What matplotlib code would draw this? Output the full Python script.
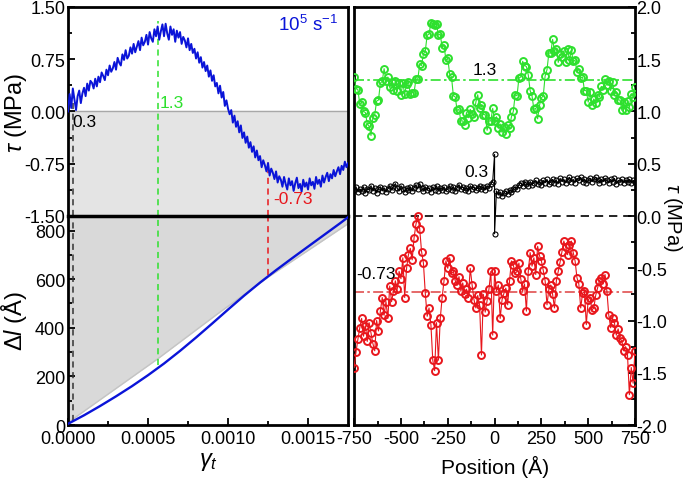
import numpy as np
import matplotlib
matplotlib.use("Agg")
import matplotlib.pyplot as plt

plt.rcParams["font.family"] = ["Liberation Sans", "DejaVu Sans"]
plt.rcParams["mathtext.fontset"] = "custom"
plt.rcParams["mathtext.rm"] = "Liberation Sans"
plt.rcParams["mathtext.it"] = "Liberation Sans:italic"
plt.rcParams["axes.unicode_minus"] = False

# shear stress vs strain (top left), noisy trace
tau_strain = [
    0.00, 0.25, 0.05, 0.33, 0.18, 0.02, 0.22, 0.30, 0.12, 0.26,
    0.34, 0.22, 0.40, 0.30, 0.44, 0.41, 0.33, 0.47, 0.36, 0.50,
    0.42, 0.56, 0.51, 0.45, 0.60, 0.52, 0.66, 0.57, 0.62, 0.71,
    0.60, 0.77, 0.70, 0.66, 0.82, 0.74, 0.88, 0.76, 0.80, 0.92,
    0.83, 0.97, 0.85, 0.93, 1.01, 0.88, 1.06, 0.95, 1.00, 1.10,
    0.96, 1.14, 1.05, 1.00, 1.18, 1.08, 1.22, 1.03, 1.15, 1.25,
    1.08, 1.26, 1.12, 1.03, 1.22, 1.10, 1.18, 1.00, 1.16, 1.06,
    1.14, 0.97, 1.07, 1.02, 0.92, 1.05, 0.88, 0.97, 0.84, 0.90,
    0.76, 0.85, 0.70, 0.78, 0.63, 0.71, 0.58, 0.66, 0.50, 0.59,
    0.44, 0.52, 0.36, 0.41, 0.26, 0.37, 0.20, 0.28, 0.08, 0.16,
    0.04, -0.04, 0.02, -0.16, -0.06, -0.22, -0.14, -0.30, -0.20, -0.38,
    -0.30, -0.45, -0.36, -0.52, -0.44, -0.58, -0.50, -0.66, -0.56, -0.70,
    -0.64, -0.80, -0.70, -0.77, -0.86, -0.74, -0.92, -0.82, -0.88, -0.97,
    -0.86, -1.02, -0.93, -0.98, -1.08, -0.94, -1.04, -1.12, -0.96, -1.06,
    -1.00, -1.14, -1.03, -0.95, -1.10, -1.04, -1.15, -0.98, -1.08, -1.02,
    -1.12, -0.96, -1.06, -1.01, -1.11, -0.94, -1.04, -0.98, -1.08, -0.92,
    -1.02, -0.94, -0.88, -1.00, -0.90, -0.96, -0.84, -0.93, -0.86, -0.80,
    -0.90, -0.78, -0.84, -0.72, -0.80, -0.74,
]
gamma = np.linspace(0, 0.00175, len(tau_strain))

# dislocation travel vs strain (bottom left)
gamma_dl = [0, 0.0001, 0.0002, 0.0003, 0.0004, 0.0005, 0.0006, 0.0007, 0.0008,
            0.0009, 0.0010, 0.0011, 0.0012, 0.0013, 0.0014, 0.0015, 0.0016,
            0.0017, 0.00175]
dl = [5, 40, 78, 118, 160, 205, 253, 305, 360, 417, 475, 532, 586, 637, 686,
      734, 782, 830, 855]
hull_gamma = [0, 0.00056, 0.00093, 0.00125, 0.00175]
hull_dl = [10, 272, 455, 608, 828]

# stress profiles along the dislocation line (right)
pos_g = np.arange(-750, 751, 10)
tau_green = [
    1.33, 1.22, 1.21, 1.07, 1.09, 1.00, 0.99, 0.88, 0.86, 0.77,
    0.94, 0.97, 1.10, 1.11, 1.27, 1.29, 1.41, 1.29, 1.33, 1.23,
    1.28, 1.21, 1.29, 1.20, 1.27, 1.16, 1.27, 1.17, 1.26, 1.28,
    1.17, 1.18, 1.18, 1.31, 1.31, 1.45, 1.44, 1.55, 1.58, 1.73,
    1.74, 1.85, 1.84, 1.83, 1.84, 1.73, 1.74, 1.61, 1.64, 1.49,
    1.51, 1.36, 1.33, 1.15, 1.14, 1.01, 1.02, 0.91, 0.91, 0.87,
    0.99, 0.94, 1.02, 0.98, 0.95, 1.09, 1.16, 1.03, 1.06, 0.97,
    0.97, 0.82, 0.91, 0.91, 1.03, 0.91, 0.95, 0.84, 0.88, 0.80,
    0.85, 0.78, 0.87, 0.84, 0.95, 1.00, 1.16, 1.15, 1.32, 1.33,
    1.48, 1.44, 1.43, 1.35, 1.20, 1.15, 1.02, 1.03, 0.93, 1.06,
    1.13, 1.15, 1.34, 1.40, 1.56, 1.56, 1.69, 1.58, 1.60, 1.47,
    1.55, 1.52, 1.58, 1.47, 1.60, 1.49, 1.59, 1.48, 1.49, 1.38,
    1.41, 1.32, 1.33, 1.20, 1.20, 1.09, 1.19, 1.06, 1.12, 1.08,
    1.16, 1.14, 1.24, 1.21, 1.31, 1.25, 1.29, 1.20, 1.28, 1.16,
    1.19, 1.11, 1.11, 1.01, 1.09, 1.01, 1.10, 1.04, 1.17, 1.14, 1.23,
]

pos_k = list(range(-750, 0, 10)) + [0, 0] + list(range(10, 751, 10))
tau_black = [
    0.25, 0.28, 0.23, 0.26, 0.24, 0.28, 0.22, 0.26, 0.25, 0.29,
    0.24, 0.27, 0.22, 0.26, 0.28, 0.24, 0.27, 0.23, 0.26, 0.29,
    0.25, 0.28, 0.31, 0.27, 0.24, 0.29, 0.26, 0.23, 0.27, 0.25,
    0.28, 0.24, 0.27, 0.30, 0.26, 0.31, 0.27, 0.24, 0.28, 0.25,
    0.27, 0.23, 0.28, 0.25, 0.29, 0.24, 0.27, 0.25, 0.28, 0.24,
    0.26, 0.29, 0.25, 0.28, 0.24, 0.27, 0.30, 0.26, 0.28, 0.25,
    0.27, 0.24, 0.29, 0.26, 0.28, 0.25, 0.27, 0.29, 0.26, 0.28,
    0.25, 0.29, 0.27, 0.31, 0.33,
    0.59, -0.17,
    0.24, 0.20, 0.23, 0.19, 0.22, 0.24, 0.21, 0.25, 0.23, 0.26,
    0.28, 0.26, 0.30, 0.32, 0.29, 0.33, 0.31, 0.29, 0.33, 0.30,
    0.32, 0.34, 0.31, 0.33, 0.30, 0.34, 0.32, 0.35, 0.31, 0.33,
    0.35, 0.32, 0.34, 0.31, 0.36, 0.33, 0.35, 0.32, 0.34, 0.37,
    0.33, 0.35, 0.32, 0.36, 0.34, 0.37, 0.33, 0.35, 0.32, 0.34,
    0.36, 0.33, 0.35, 0.37, 0.34, 0.32, 0.35, 0.33, 0.36, 0.34,
    0.32, 0.35, 0.33, 0.36, 0.31, 0.34, 0.33, 0.35, 0.32, 0.34,
    0.33, 0.35, 0.32, 0.34, 0.33,
]

pos_r = np.arange(-750, 751, 10)
tau_red = [
    -1.45, -1.30, -1.18, -1.07, -0.98, -1.15, -1.05, -1.20, -1.02, -1.12,
    -1.22, -1.29, -1.00, -1.10, -0.91, -0.78, -0.95, -0.82, -0.98, -0.67,
    -0.82, -0.72, -0.62, -0.70, -0.53, -0.60, -0.40, -0.78, -0.50, -0.37,
    -0.31, -0.42, -0.21, -0.08, 0.00, -0.12, -0.34, -0.45, -0.74, -0.96,
    -0.88, -1.04, -1.38, -1.48, -1.02, -1.38, -0.98, -0.78, -0.62, -0.43,
    -0.50, -0.40, -0.55, -0.53, -0.62, -0.66, -0.58, -0.72, -0.64, -0.75,
    -0.70, -0.78, -0.50, -0.66, -0.80, -0.88, -0.76, -0.85, -1.33, -0.75,
    -0.92, -0.81, -0.70, -0.53, -1.14, -0.53, -0.72, -0.66, -0.98, -0.80,
    -0.74, -0.69, -0.85, -0.62, -0.43, -0.47, -0.55, -0.53, -0.45, -0.60,
    -0.72, -0.65, -0.91, -0.53, -0.35, -0.48, -0.40, -0.56, -0.29, -0.38,
    -0.43, -0.52, -0.62, -0.85, -0.70, -0.66, -0.75, -0.88, -0.62, -0.53,
    -0.44, -0.34, -0.24, -0.30, -0.37, -0.28, -0.24, -0.35, -0.43, -0.59,
    -0.65, -0.88, -0.74, -0.72, -1.04, -0.80, -0.78, -0.90, -0.88, -0.76,
    -0.69, -0.62, -0.59, -0.65, -0.56, -0.72, -0.95, -1.07, -0.98, -1.02,
    -1.14, -1.08, -1.17, -1.20, -1.29, -1.25, -1.33, -1.71, -1.45, -1.60,
    -1.29,
]

marks = {"black": (0.00003, 0.3, 15), "green": (0.00056, 1.3, 248),
         "red": (0.00125, -0.73, 618)}

blue = "#0a14d8"
green = "#2ee02e"
red = "#e8161c"
fs_tick = 13

fig = plt.figure(figsize=(6.85, 4.81), dpi=100)
ax1 = fig.add_axes([0.0993, 0.5489, 0.4088, 0.4345])
ax2 = fig.add_axes([0.0993, 0.1143, 0.4088, 0.4346])
ax3 = fig.add_axes([0.517, 0.1143, 0.410, 0.8691])

# top left
ax1.axhspan(-1.5, 0, color="#e4e4e4", zorder=0)
ax1.axhline(0, color="#a8a8a8", lw=1, zorder=1)
for key, c in [("black", "#333333"), ("green", green), ("red", red)]:
    ax1.vlines(marks[key][0], -1.5, marks[key][1], colors=c,
               linestyles=(0, (4, 3)), lw=1.1, zorder=2)
ax1.plot(gamma, tau_strain, color=blue, lw=1.4, zorder=3)
ax1.text(0.00003, -0.04, "0.3", color="black", fontsize=12.5, va="top")
ax1.text(0.000575, 0.13, "1.3", color=green, fontsize=12.5, va="center")
ax1.text(0.00128, -1.25, "-0.73", color=red, fontsize=12.5, va="center")
ax1.text(0.00169, 1.26, r"10$^5$ s$^{-1}$", color=blue, fontsize=13.5,
         ha="right", va="center")
ax1.set_xlim(0, 0.00175)
ax1.set_ylim(-1.5, 1.5)
ax1.set_yticks([-1.5, -0.75, 0, 0.75, 1.5])
ax1.set_yticks([-1.125, -0.375, 0.375, 1.125], minor=True)
ax1.set_yticklabels(["-1.50", "-0.75", "0.00", "0.75", "1.50"])
ax1.set_xticks([])
ax1.set_ylabel(r"$\tau$ (MPa)", fontsize=17)
ax1.yaxis.set_label_coords(-0.138, 0.5)

# bottom left
top = 860
ax2.fill_between(hull_gamma, hull_dl, top, color="#d9d9d9", lw=0, zorder=0)
ax2.plot(hull_gamma, hull_dl, color="#c4c4c4", lw=1, zorder=1)
for key, c in [("black", "#333333"), ("green", green), ("red", red)]:
    ax2.vlines(marks[key][0], marks[key][2], top, colors=c,
               linestyles=(0, (4, 3)), lw=1.1, zorder=2)
ax2.plot(gamma_dl, dl, color=blue, lw=1.7, zorder=3)
ax2.set_xlim(0, 0.00175)
ax2.set_ylim(0, top)
ax2.set_xticks([0, 0.0005, 0.001, 0.0015])
ax2.set_xticklabels(["0.0000", "0.0005", "0.0010", "0.0015"])
ax2.set_xticks([0.00025, 0.00075, 0.00125], minor=True)
ax2.set_yticks([0, 200, 400, 600, 800])
ax2.set_yticks([100, 300, 500, 700], minor=True)
ax2.set_ylabel(r"$\Delta l$ (Å)", fontsize=17)
ax2.yaxis.set_label_coords(-0.138, 0.5)
ax2.set_xlabel(r"$\gamma_t$", fontsize=17, labelpad=2)

# right
ax3.axhline(1.3, color=green, lw=1.2, ls=(0, (6, 2, 1.5, 2)), zorder=1)
ax3.axhline(-0.73, color="#e05050", lw=1.2, ls=(0, (6, 2, 1.5, 2)), zorder=1)
ax3.axhline(0, color="black", lw=1.2, ls=(0, (5, 3.5)), zorder=1)
ax3.plot(pos_g, tau_green, color=green, lw=0.8, marker="o", ms=5,
         mfc="none", mec=green, mew=1.4, zorder=3)
ax3.plot(pos_k, tau_black, color="black", lw=0.8, marker="o", ms=3.6,
         mfc="none", mec="black", mew=0.8, zorder=3)
ax3.plot(pos_r, tau_red, color=red, lw=0.8, marker="o", ms=5,
         mfc="none", mec=red, mew=1.4, zorder=3)
ax3.text(-117, 1.33, "1.3", fontsize=12.5, va="bottom")
ax3.text(-160, 0.35, "0.3", fontsize=12.5, va="bottom")
ax3.text(-738, -0.62, "-0.73", fontsize=12.5, va="bottom")
ax3.set_xlim(-750, 750)
ax3.set_ylim(-2, 2)
ax3.set_xticks([-750, -500, -250, 0, 250, 500, 750])
ax3.set_xticks([-625, -375, -125, 125, 375, 625], minor=True)
ax3.set_yticks([-2, -1.5, -1, -0.5, 0, 0.5, 1, 1.5, 2])
ax3.set_yticks(np.arange(-1.75, 2, 0.5), minor=True)
ax3.set_yticklabels(["-2.0", "-1.5", "-1.0", "-0.5", "0.0", "0.5", "1.0",
                     "1.5", "2.0"])
ax3.yaxis.tick_right()
fig.text(0.982, 0.548, r"$\tau$ (MPa)", fontsize=14.5, rotation=270,
         ha="center", va="center")
ax3.set_xlabel("Position (Å)", fontsize=15, labelpad=6)

for ax in (ax1, ax2, ax3):
    for s in ax.spines.values():
        s.set_linewidth(2)
    ax.tick_params(which="both", direction="in", labelsize=fs_tick, width=1.3)
    ax.tick_params(which="major", length=5)
    ax.tick_params(which="minor", length=3)
ax1.tick_params(axis="y", right=False, pad=2)
ax2.tick_params(axis="y", right=False, pad=2)
ax2.tick_params(axis="x", top=False)
ax3.tick_params(axis="y", left=False, right=True, pad=1)
ax3.tick_params(axis="x", top=False)
ax2.spines["top"].set_linewidth(2.5)

fig.savefig("out.png", dpi=100)
